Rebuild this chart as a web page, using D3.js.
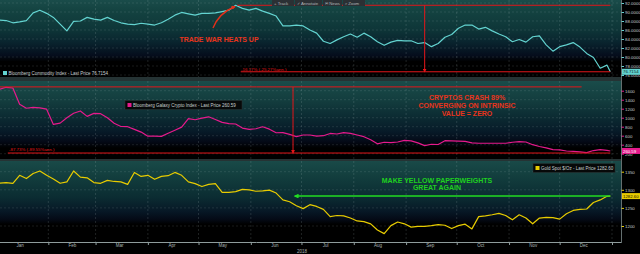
<!DOCTYPE html>
<html>
<head>
<meta charset="utf-8">
<script src="https://cdn.jsdelivr.net/npm/d3@7"></script>
<style>
  body { margin: 0; background: #000; }
  svg { display: block; font-family: "Liberation Sans", Arial, sans-serif; }
</style>
</head>
<body>
<div id="chart"></div>
<script>
// sample dates: every 4 days from Jan 3 2018, plus the last day
var dates = d3.range(91).map(function (i) {
    return d3.utcDay.offset(new Date(Date.UTC(2018, 0, 3)), 4 * i);
});
dates.push(new Date(Date.UTC(2018, 11, 31)));

var commodityIndex = [
    88.2, 88.1, 87.6, 87.8, 88.1, 89.8, 90.4, 89.7, 88.8, 87.3,
    85.8, 87.9, 88.0, 88.8, 88.4, 88.2, 88.8, 88.1, 87.6, 87.3,
    87.2, 87.5, 87.3, 87.1, 87.6, 88.4, 89.3, 89.9, 89.6, 89.3,
    89.7, 89.7, 89.8, 90.1, 90.4, 91.5, 90.8, 90.4, 90.8, 90.2,
    89.7, 89.1, 86.9, 86.9, 87.1, 86.9, 86.0, 85.3, 83.5, 83.0,
    83.8, 84.5, 85.1, 84.4, 85.3, 84.5, 83.4, 82.6, 83.3, 83.7,
    83.6, 83.6, 83.0, 83.2, 82.3, 83.0, 84.4, 85.0, 86.4, 87.1,
    87.1, 86.2, 86.6, 85.8, 85.1, 84.5, 83.4, 83.9, 83.3, 84.5,
    84.7, 82.7, 81.3, 82.3, 82.7, 83.2, 82.2, 80.8, 79.9, 77.5,
    78.2, 76.7154
];

var cryptoIndex = [
    1631, 1676, 1660, 1300, 1210, 1230, 1220, 1190, 850, 880,
    1000, 1098, 1150, 1030, 1095, 1090, 1000, 875, 805, 800,
    740, 680, 590, 590, 585, 653, 720, 790, 980, 955,
    990, 1020, 960, 895, 870, 860, 770, 740, 755, 800,
    745, 665, 670, 630, 580, 616, 616, 590, 600, 650,
    638, 670, 650, 616, 578, 510, 420, 455, 445, 460,
    495, 485, 440, 380, 410, 405, 490, 485, 480, 475,
    440, 432, 432, 432, 432, 432, 455, 470, 460, 400,
    360, 330, 290, 285, 260, 250, 242, 225, 270, 290,
    275, 260.59
];

var goldSpot = [
    1318, 1320, 1318, 1340, 1331, 1345, 1352, 1340, 1330, 1318,
    1322, 1352, 1335, 1333, 1320, 1318, 1326, 1323, 1322, 1315,
    1348, 1337, 1340, 1329, 1337, 1339, 1348, 1340, 1322, 1317,
    1309, 1315, 1317, 1293, 1293, 1295, 1301, 1300, 1296, 1297,
    1299, 1291, 1272, 1267, 1256, 1248, 1259, 1254, 1246, 1226,
    1229, 1228, 1222, 1214, 1212, 1206, 1189, 1179, 1201, 1211,
    1206, 1197, 1199, 1199, 1201, 1204, 1202, 1193, 1201, 1205,
    1192, 1226, 1228, 1231, 1235, 1229, 1217, 1231, 1222, 1206,
    1222, 1224, 1223, 1219, 1234, 1243, 1246, 1247, 1265, 1272,
    1282, 1282.60
];

var commodityTicks = [76, 78, 80, 82, 84, 86, 88, 90, 92];
var cryptoTicks = [200, 400, 600, 800, 1000, 1200, 1400, 1600];
var goldTicks = [1200, 1250, 1300, 1350];
var monthNames = ["Jan", "Feb", "Mar", "Apr", "May", "Jun", "Jul", "Aug", "Sep", "Oct", "Nov", "Dec"];

var W = 640, H = 254, plotR = 621;

var svg = d3.select("#chart").append("svg")
    .attr("width", W)
    .attr("height", H);

svg.append("rect").attr("width", W).attr("height", H).attr("fill", "#000");

var defs = svg.append("defs");

//Background gradients (teal -> navy -> black)
function addGrad(id, stops) {
    var g = defs.append("linearGradient").attr("id", id)
        .attr("x1", 0).attr("y1", 0).attr("x2", 0).attr("y2", 1);
    stops.forEach(function (s) {
        g.append("stop").attr("offset", s[0]).attr("stop-color", s[1]);
    });
}
addGrad("bg1", [[0, "#1a4c4a"], [0.13, "#144341"], [0.38, "#0e3638"], [0.55, "#09242e"], [0.72, "#050d1c"], [0.8, "#000"], [1, "#000"]]);
addGrad("bg2", [[0, "#1a4c4a"], [0.25, "#133d3e"], [0.45, "#0c2c33"], [0.65, "#071a28"], [0.78, "#040916"], [0.86, "#000"], [1, "#000"]]);
addGrad("bg3", [[0, "#194a48"], [0.2, "#123d3d"], [0.45, "#0b2c32"], [0.62, "#071826"], [0.72, "#040a16"], [0.78, "#000"], [1, "#000"]]);

function addMarker(id, color, size) {
    defs.append("marker")
        .attr("id", id)
        .attr("viewBox", "0 0 10 10")
        .attr("refX", 8)
        .attr("refY", 5)
        .attr("markerWidth", size)
        .attr("markerHeight", size)
        .attr("orient", "auto-start-reverse")
        .append("path")
        .attr("d", "M0,0L10,5L0,10z")
        .attr("fill", color);
}
addMarker("redHead", "#e3161a", 4);
addMarker("redCurve", "#e3301a", 3);
addMarker("greenHead", "#22dd22", 3.2);

var x = d3.scaleUtc()
    .domain([new Date(Date.UTC(2018, 0, 1)), new Date(Date.UTC(2019, 0, 1))])
    .range([-4, 612]);

var panels = [
    {
        name: "commodity", top: 0, bottom: 77, bg: "bg1", values: commodityIndex, ticks: commodityTicks,
        y: d3.scaleLinear().domain([76, 92]).range([75, 3]),
        color: "#63d3d0", fmt: d3.format(".4f"), labelText: "#0a2222"
    },
    {
        name: "crypto", top: 81, bottom: 159, bg: "bg2", values: cryptoIndex, ticks: cryptoTicks,
        y: d3.scaleLinear().domain([200, 1600]).range([153.7, 90.7]),
        color: "#e61a8c", fmt: d3.format("d"), labelText: "#fff"
    },
    {
        name: "gold", top: 161, bottom: 242, bg: "bg3", values: goldSpot, ticks: goldTicks,
        y: d3.scaleLinear().domain([1200, 1350]).range([226, 171.7]),
        color: "#e8cc00", fmt: d3.format("d"), labelText: "#1a1600"
    }
];

var monthStarts = d3.utcMonth.range(new Date(Date.UTC(2018, 1, 1)), new Date(Date.UTC(2019, 0, 2)));
var monthMids = d3.range(12).map(function (m) { return new Date(Date.UTC(2018, m, 15)); });

//separators
svg.append("rect").attr("x", 0).attr("y", 77).attr("width", plotR).attr("height", 4).attr("fill", "#253334");
svg.append("rect").attr("x", 0).attr("y", 159).attr("width", plotR).attr("height", 2).attr("fill", "#253334");

panels.forEach(function (p) {
    var g = svg.append("g").attr("class", p.name);
    g.append("rect")
        .attr("x", 0).attr("y", p.top)
        .attr("width", plotR).attr("height", p.bottom - p.top)
        .attr("fill", "url(#" + p.bg + ")");

    //horizontal grid
    g.selectAll("line.hgrid")
        .data(p.ticks.filter(function (t) { return p.y(t) > p.top + 1 && p.y(t) < p.bottom - 1; }))
        .enter().append("line")
        .attr("class", "hgrid")
        .attr("x1", 0).attr("x2", plotR)
        .attr("y1", function (d) { return p.y(d); })
        .attr("y2", function (d) { return p.y(d); })
        .attr("stroke", "rgba(190,210,210,0.13)")
        .attr("stroke-dasharray", "2,2");

    //vertical grid at month boundaries
    g.selectAll("line.vgrid")
        .data(monthStarts)
        .enter().append("line")
        .attr("class", "vgrid")
        .attr("x1", function (d) { return x(d); })
        .attr("x2", function (d) { return x(d); })
        .attr("y1", p.top).attr("y2", p.bottom)
        .attr("stroke", "rgba(190,210,210,0.16)")
        .attr("stroke-dasharray", "2,2");

    //series line
    var line = d3.line()
        .x(function (d, i) { return x(dates[i]); })
        .y(function (d) { return p.y(d); });
    g.append("path")
        .datum(p.values)
        .attr("d", line)
        .attr("fill", "none")
        .attr("stroke", p.color)
        .attr("stroke-width", 1.2)
        .attr("stroke-linejoin", "round");

    //right axis
    var ax = svg.append("g")
        .attr("transform", "translate(" + plotR + ",0)")
        .call(d3.axisRight(p.y).tickValues(p.ticks).tickSize(3).tickPadding(1).tickFormat(p.fmt));
    ax.select(".domain").remove();
    ax.selectAll(".tick line").attr("stroke", p.color);
    ax.selectAll(".tick text")
        .attr("fill", "#c4cccc")
        .style("font-size", "4.4px")
        .style("font-family", "'Liberation Sans', Arial, sans-serif");

    //last price box
    var last = p.values[p.values.length - 1];
    var lb = svg.append("g").attr("transform", "translate(" + (plotR + 1) + "," + p.y(last) + ")");
    lb.append("rect")
        .attr("x", 0).attr("y", -3)
        .attr("width", 18.5).attr("height", 6)
        .attr("fill", p.color);
    lb.append("text")
        .attr("x", 1).attr("y", 1.6)
        .attr("fill", p.labelText)
        .style("font-size", "4.3px")
        .text(p.name === "commodity" ? d3.format(".4f")(last) : d3.format(".2f")(last));
});

//right axis line
svg.append("line")
    .attr("x1", plotR + 0.5).attr("x2", plotR + 0.5)
    .attr("y1", 0).attr("y2", 243)
    .attr("stroke", "#7d8c8c")
    .attr("stroke-width", 0.8);

//bottom axis
var xa = svg.append("g")
    .attr("transform", "translate(0,242)")
    .call(d3.axisBottom(x).tickValues(monthStarts).tickSize(3).tickFormat(""));
xa.select(".domain").attr("stroke", "#8f9c9c").attr("d", "M0,0.5H" + plotR);
xa.selectAll(".tick line").attr("stroke", "#8f9c9c");

var xl = svg.append("g")
    .attr("transform", "translate(0,242)")
    .call(d3.axisBottom(x).tickValues(monthMids).tickSize(0).tickPadding(2)
        .tickFormat(function (d) { return monthNames[d.getUTCMonth()]; }));
xl.select(".domain").remove();
xl.selectAll(".tick text")
    .attr("fill", "#aab4b4")
    .style("font-size", "4.5px")
    .style("font-family", "'Liberation Sans', Arial, sans-serif");

svg.append("text")
    .attr("x", 297).attr("y", 252.5)
    .attr("fill", "#aab4b4")
    .style("font-size", "4.5px")
    .text("2018");

var p1 = panels[0], p2 = panels[1], p3 = panels[2];
var red = "#e3161a", redText = "#e8341c";

//commodity annotations
var comHigh = 91.5, comLow = 76.7154;
svg.append("line")
    .attr("x1", x(new Date(Date.UTC(2018, 4, 24)))).attr("x2", x(new Date(Date.UTC(2018, 11, 31))))
    .attr("y1", p1.y(comHigh)).attr("y2", p1.y(comHigh))
    .attr("stroke", red).attr("stroke-width", 1);
svg.append("line")
    .attr("x1", x(new Date(Date.UTC(2018, 4, 26)))).attr("x2", x(new Date(Date.UTC(2018, 11, 31))))
    .attr("y1", p1.y(comLow)).attr("y2", p1.y(comLow))
    .attr("stroke", red).attr("stroke-width", 1);
svg.append("line")
    .attr("x1", x(new Date(Date.UTC(2018, 8, 12)))).attr("x2", x(new Date(Date.UTC(2018, 8, 12))))
    .attr("y1", p1.y(comHigh)).attr("y2", p1.y(comLow))
    .attr("stroke", red).attr("stroke-width", 1)
    .attr("marker-end", "url(#redHead)");
svg.append("text")
    .attr("x", 241).attr("y", 70.8)
    .attr("fill", red)
    .style("font-size", "4.4px")
    .text("-16.17% (-25.27%ann.)");
svg.append("path")
    .attr("d", "M213,28 Q219,13 235,6.5")
    .attr("fill", "none")
    .attr("stroke", "#e3301a")
    .attr("stroke-width", 1.4)
    .attr("marker-end", "url(#redCurve)");
svg.append("text")
    .attr("x", 219).attr("y", 41.5)
    .attr("text-anchor", "middle")
    .attr("fill", redText)
    .style("font-size", "7px")
    .style("font-weight", "bold")
    .text("TRADE WAR HEATS UP");

//legend commodity
svg.append("rect").attr("x", 3).attr("y", 71).attr("width", 4).attr("height", 4).attr("fill", p1.color);
svg.append("text")
    .attr("x", 8.5).attr("y", 74.8)
    .attr("fill", "#c8d0d0")
    .style("font-size", "4.5px")
    .text("Bloomberg Commodity Index - Last Price 76.7154");

//crypto annotations
var cryHigh = 1685, cryLow = 215;
svg.append("line")
    .attr("x1", 0).attr("x2", x(new Date(Date.UTC(2018, 11, 14))))
    .attr("y1", p2.y(cryHigh)).attr("y2", p2.y(cryHigh))
    .attr("stroke", red).attr("stroke-width", 1);
svg.append("line")
    .attr("x1", x(new Date(Date.UTC(2018, 0, 8)))).attr("x2", x(new Date(Date.UTC(2018, 11, 31))))
    .attr("y1", p2.y(cryLow)).attr("y2", p2.y(cryLow))
    .attr("stroke", red).attr("stroke-width", 1);
svg.append("line")
    .attr("x1", x(new Date(Date.UTC(2018, 5, 26)))).attr("x2", x(new Date(Date.UTC(2018, 5, 26))))
    .attr("y1", p2.y(cryHigh)).attr("y2", p2.y(cryLow))
    .attr("stroke", red).attr("stroke-width", 1)
    .attr("marker-end", "url(#redHead)");
svg.append("text")
    .attr("x", 9).attr("y", 151.3)
    .attr("fill", red)
    .style("font-size", "4.4px")
    .text("-87.73% (-89.55%ann.)");
svg.selectAll("text.cryNote")
    .data(["CRYPTOS CRASH 89%", "CONVERGING ON INTRINSIC", "VALUE = ZERO"])
    .enter().append("text")
    .attr("class", "cryNote")
    .attr("x", 467)
    .attr("y", function (d, i) { return 100 + i * 8; })
    .attr("text-anchor", "middle")
    .attr("fill", redText)
    .style("font-size", "7px")
    .style("font-weight", "bold")
    .text(function (d) { return d; });

//legend crypto
var lg2 = svg.append("g").attr("transform", "translate(125,100.5)");
lg2.append("rect").attr("width", 117).attr("height", 9).attr("fill", "#070909").attr("stroke", "#2c3636").attr("stroke-width", 0.5);
lg2.append("rect").attr("x", 2.5).attr("y", 2.5).attr("width", 4).attr("height", 4).attr("fill", p2.color);
lg2.append("text").attr("x", 8).attr("y", 6.2).attr("fill", "#c8d0d0").style("font-size", "4.5px")
    .text("Bloomberg Galaxy Crypto Index - Last Price 260.59");

//gold annotations
var goldLevel = 1282.6;
svg.append("line")
    .attr("x1", x(new Date(Date.UTC(2018, 5, 27)))).attr("x2", x(new Date(Date.UTC(2018, 11, 31))))
    .attr("y1", p3.y(goldLevel)).attr("y2", p3.y(goldLevel))
    .attr("stroke", "#22dd22").attr("stroke-width", 1.5)
    .attr("marker-start", "url(#greenHead)");
svg.selectAll("text.goldNote")
    .data(["MAKE YELLOW PAPERWEIGHTS", "GREAT AGAIN"])
    .enter().append("text")
    .attr("class", "goldNote")
    .attr("x", 437)
    .attr("y", function (d, i) { return 182.5 + i * 7.8; })
    .attr("text-anchor", "middle")
    .attr("fill", "#1fd01f")
    .style("font-size", "7px")
    .style("font-weight", "bold")
    .text(function (d) { return d; });

//legend gold
var lg3 = svg.append("g").attr("transform", "translate(533,163.5)");
lg3.append("rect").attr("width", 82).attr("height", 9).attr("fill", "#070909").attr("stroke", "#2c3636").attr("stroke-width", 0.5);
lg3.append("rect").attr("x", 2.5).attr("y", 2.5).attr("width", 4).attr("height", 4).attr("fill", p3.color);
lg3.append("text").attr("x", 8).attr("y", 6.2).attr("fill", "#c8d0d0").style("font-size", "4.5px")
    .text("Gold Spot $/Oz - Last Price 1282.60");

//toolbar
var buttons = [
    { label: "+ Track", x: 272, w: 22 },
    { label: "\u2713 Annotate", x: 295, w: 27 },
    { label: "\u2709 News", x: 323, w: 19 },
    { label: "\u2315 Zoom", x: 343, w: 22 }
];
var tb = svg.selectAll("g.btn").data(buttons).enter().append("g")
    .attr("class", "btn")
    .attr("transform", function (d) { return "translate(" + d.x + ",0)"; });
tb.append("rect").attr("width", function (d) { return d.w; }).attr("height", 6).attr("fill", "#2b3034");
tb.append("text").attr("x", 2).attr("y", 4.5).attr("fill", "#aeb4b8").style("font-size", "4.3px")
    .text(function (d) { return d.label; });
</script>
</body>
</html>
